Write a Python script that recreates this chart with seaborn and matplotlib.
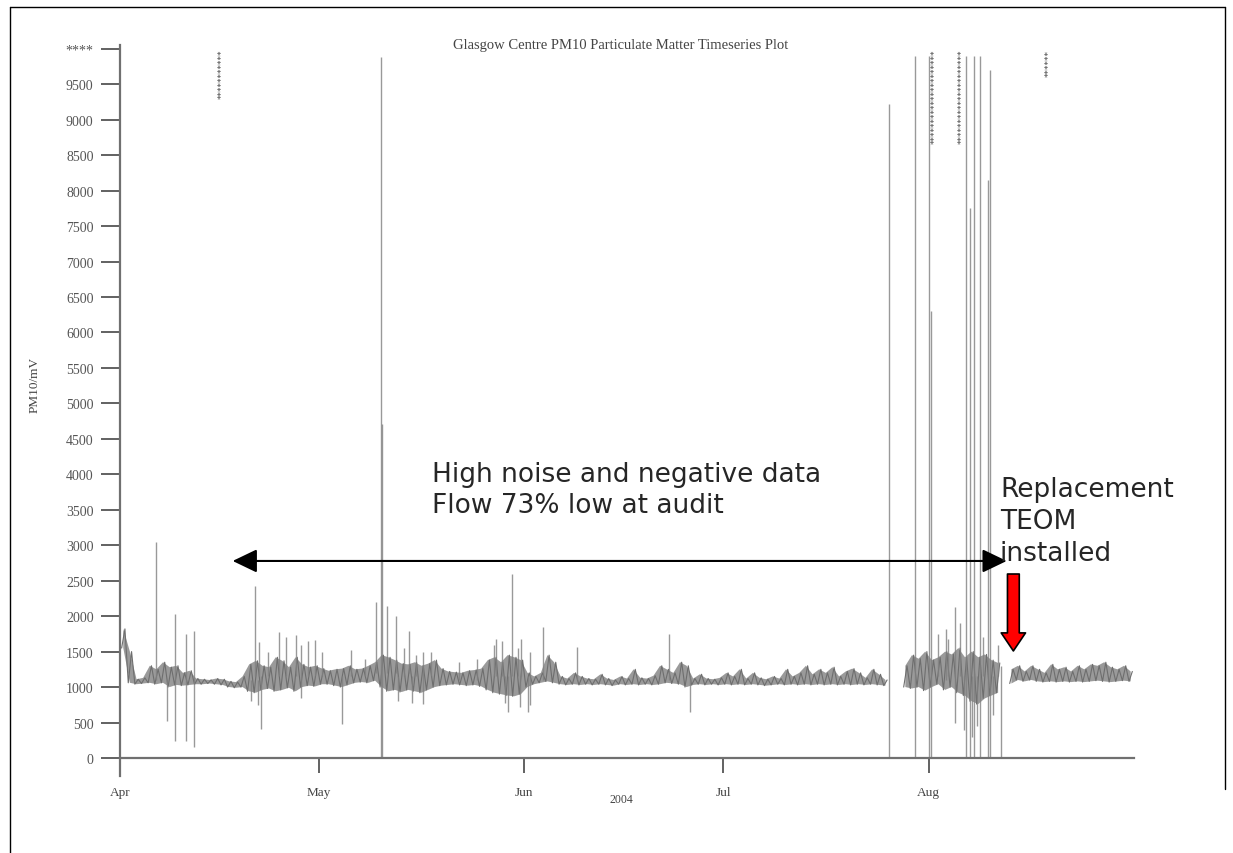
import numpy as np
import pandas as pd
import matplotlib
matplotlib.use("Agg")
import matplotlib.pyplot as plt
from matplotlib.lines import Line2D
import seaborn as sns

nan = np.nan
start = pd.Timestamp("2004-04-01")
end = pd.Timestamp("2004-09-01")

# daily low / high of the PM10 trace (mV)
apr_low = [1550, 1060, 1040, 1050, 1060, 1040, 1060, 1000, 1030, 1020,
           1030, 1040, 1040, 1050, 1040, 1030, 1000, 990, 1000, 940,
           920, 960, 980, 940, 960, 990, 940, 1000, 1020, 1010]
apr_high = [1820, 1500, 1110, 1130, 1300, 1250, 1350, 1280, 1300, 1200,
            1230, 1120, 1110, 1100, 1120, 1110, 1080, 1070, 1150, 1320,
            1370, 1300, 1280, 1420, 1370, 1280, 1420, 1320, 1280, 1300]
may_low = [1040, 1040, 1020, 1000, 1030, 1060, 1070, 1060, 1090, 1000,
           940, 960, 930, 960, 940, 920, 960, 1000, 1020, 1030,
           1040, 1030, 1020, 1030, 1010, 960, 920, 900, 880, 870, 900]
may_high = [1260, 1230, 1250, 1260, 1300, 1250, 1260, 1300, 1350, 1450,
            1420, 1380, 1330, 1320, 1350, 1300, 1330, 1380, 1260, 1220,
            1210, 1200, 1230, 1240, 1260, 1380, 1420, 1350, 1450, 1420, 1380]
jun_low = [1000, 1040, 1060, 1080, 1060, 1040, 1030, 1040, 1030, 1040,
           1030, 1040, 1030, 1020, 1040, 1030, 1040, 1030, 1040, 1030,
           1040, 1060, 1050, 1040, 1000, 1030, 1040, 1030, 1040, 1030]
jun_high = [1200, 1150, 1200, 1450, 1350, 1150, 1120, 1200, 1150, 1120,
            1110, 1180, 1120, 1100, 1150, 1120, 1250, 1130, 1120, 1160,
            1300, 1250, 1200, 1350, 1300, 1120, 1180, 1120, 1110, 1130]
jul_low = [1040, 1030, 1040, 1030, 1040, 1030, 1020, 1030, 1040, 1030,
           1040, 1030, 1040, 1030, 1040, 1030, 1040, 1030, 1040, 1030,
           1040, 1030, 1040, 1030, 1020, nan, nan, 1000, 980, 1000, 950]
jul_high = [1200, 1150, 1250, 1120, 1200, 1130, 1110, 1150, 1120, 1250,
            1150, 1200, 1300, 1180, 1250, 1200, 1280, 1150, 1220, 1260,
            1200, 1130, 1250, 1180, 1100, nan, nan, 1300, 1450, 1400, 1500]
aug_low = [1000, 1040, 960, 1000, 920, 880, 800, 760, 840, 880, 920, nan,
           1050, 1100, 1080, 1100, 1080, 1070, 1080, 1070, 1080, 1070,
           1080, 1070, 1080, 1090, 1080, 1070, 1080, 1090, 1080]
aug_high = [1380, 1420, 1500, 1460, 1550, 1420, 1500, 1420, 1460, 1380, 1340, nan,
            1250, 1300, 1220, 1300, 1250, 1200, 1320, 1250, 1280, 1220,
            1300, 1250, 1320, 1300, 1350, 1280, 1250, 1300, 1220]

# isolated spikes and hairs: day after 1 Apr, bottom and top of the line
spike_day = [5.4, 7.1, 8.3, 10.0, 11.2, 20.3, 21.3, 24.0, 26.5, 29.4,
             33.5, 38.6, 39.4, 39.6, 40.3, 41.6, 43.6, 56.8, 58.6, 59.2,
             60.5, 61.6, 63.8, 68.9, 82.8, 86.0, 116.1, 120.0, 122.0, 122.4,
             124.6, 126.0, 127.7, 128.2, 128.9, 129.7, 130.9, 131.3, 133.0,
             19.7, 20.8, 21.0, 22.4, 25.1, 27.3, 28.4, 30.5, 34.8, 37.0,
             41.9, 42.9, 44.0, 44.6, 45.7, 47.0, 51.1, 53.8, 56.5, 57.6,
             58.1, 60.0, 60.3, 61.9, 123.5, 125.0, 126.8, 127.4, 128.6, 129.3,
             130.2, 131.8, 132.5]
spike_low = [1100, 526, 244, 244, 155, 1150, 410, 1150, 1150, 1150,
             480, 1200, 0, 0, 1200, 1200, 1200, 1150, 650, 1150,
             1150, 650, 1100, 1100, 1100, 650, 0, 0, 0, 0,
             1100, 500, 0, 0, 0, 0, 0, 0, 0,
             800, 750, 1150, 1150, 1150, 850, 1150, 1150, 1150, 1150,
             800, 1150, 780, 1150, 760, 1150, 1100, 1100, 1150, 1150,
             780, 1150, 720, 750, 1150, 1150, 1150, 400, 300, 450,
             1150, 600, 1150]
spike_high = [3045, 1100, 2030, 1750, 1790, 2430, 1150, 1775, 1730, 1660,
              1150, 2200, 9880, 4710, 2140, 2000, 1790, 1680, 1150, 2600,
              1680, 1150, 1850, 1560, 1750, 1150, 9220, 9900, 9900, 6300,
              1820, 2130, 9900, 7750, 9900, 9900, 8150, 9700, 1300,
              1100, 1100, 1640, 1500, 1700, 1600, 1650, 1500, 1520, 1400,
              1150, 1550, 1150, 1450, 1500, 1500, 1350, 1400, 1600, 1650,
              1150, 1550, 1150, 1500, 1750, 1680, 1900, 1150, 1150, 1150,
              1700, 1150, 1600]

# flag marks printed along the top
flag_day = [15.5, 123.0, 127.1, 140.2]
flag_text = ["***********", "*********************", "*********************", "******"]

y_ticks = list(range(0, 10001, 500))
y_labels = [str(v) for v in y_ticks[:-1]] + ["****"]
month_ticks = ["2004-04-01", "2004-05-01", "2004-06-01", "2004-07-01", "2004-08-01"]
month_labels = ["Apr", "May", "Jun", "Jul", "Aug"]

low = apr_low + may_low + jun_low + jul_low + aug_low
high = apr_high + may_high + jun_high + jul_high + aug_high

rows = []
seg = 0
for d, (lo, hi) in enumerate(zip(low, high)):
    if np.isnan(lo):
        seg += 1
        continue
    rows.append((start + pd.Timedelta(days=d + 0.25), lo, seg))
    rows.append((start + pd.Timedelta(days=d + 0.75), hi, seg))
df = pd.DataFrame(rows, columns=["time", "pm10", "segment"])
band = pd.DataFrame({"time": [start + pd.Timedelta(days=d + 0.5) for d in range(len(low))],
                     "low": low, "high": high})

sns.set_style("ticks")
plt.rcParams["font.family"] = ["Liberation Serif", "DejaVu Serif"]

fig = plt.figure(figsize=(12.33, 8.54), dpi=100)
ax = fig.add_axes([0.0973, 0.0905, 0.8224, 0.8554])

ax.fill_between(band["time"], band["low"], band["high"], color="#9a9a9a", lw=0)
sns.lineplot(data=df, x="time", y="pm10", units="segment", estimator=None,
             color="#6e6e6e", linewidth=0.8, ax=ax, legend=False)
spike_t = [start + pd.Timedelta(days=d) for d in spike_day]
ax.vlines(spike_t, spike_low, spike_high, color="#808080", linewidth=1.0, alpha=0.8)

ax.set_xlim(start, end)
ax.set_ylim(-250, 10050)
ax.set_yticks(y_ticks)
ax.set_yticklabels(y_labels)
ax.set_xticks(pd.to_datetime(month_ticks))
ax.set_xticklabels(month_labels)
ax.set_xlabel("")
ax.set_ylabel("")

for s in ["top", "right"]:
    ax.spines[s].set_visible(False)
ax.spines["bottom"].set_position(("data", 0))
for s in ["left", "bottom"]:
    ax.spines[s].set_color("#707070")
    ax.spines[s].set_linewidth(1.6)
ax.tick_params(axis="y", length=14, width=1.3, color="#555555", pad=5,
               labelsize=10, labelcolor="#555555")
ax.tick_params(axis="x", length=11, width=1.3, color="#555555", pad=9,
               labelsize=9.5, labelcolor="#444444")

for d, t in zip(flag_day, flag_text):
    ax.text(start + pd.Timedelta(days=d), 10000, t, rotation=90, ha="center",
            va="top", fontsize=6.5, color="#444444", family="DejaVu Sans")

fig.text(621 / 1233, 1 - 45 / 854, "Glasgow Centre PM10 Particulate Matter Timeseries Plot",
         ha="center", va="center", fontsize=10.5, color="#444444")
fig.text(35 / 1233, 1 - 385 / 854, "PM10/mV", rotation=90, ha="center",
         va="center", fontsize=9.5, color="#444444")
fig.text(621 / 1233, 1 - 800 / 854, "2004", ha="center", va="center",
         fontsize=8.5, color="#444444")

# annotations
fig.text(432 / 1233, 1 - 490.5 / 854, "High noise and negative data\nFlow 73% low at audit",
         ha="left", va="center", fontsize=19, linespacing=1.25, family="DejaVu Sans")
fig.text(1000 / 1233, 1 - 522.5 / 854, "Replacement\nTEOM\ninstalled",
         ha="left", va="center", fontsize=19, linespacing=1.3, family="DejaVu Sans")
ax.annotate("", xy=(start + pd.Timedelta(days=133.8), 2778),
            xytext=(start + pd.Timedelta(days=17.0), 2778),
            arrowprops=dict(arrowstyle="<|-|>,head_length=0.75,head_width=0.36",
                            mutation_scale=20, color="black", lw=1.5,
                            shrinkA=0, shrinkB=0))
ax.annotate("", xy=(start + pd.Timedelta(days=134.8), 1509),
            xytext=(start + pd.Timedelta(days=134.8), 2594),
            arrowprops=dict(arrowstyle="simple,head_length=1.3,head_width=1.75,tail_width=0.85",
                            mutation_scale=10, fc="#ff0000", ec="black", lw=1.2,
                            shrinkA=0, shrinkB=0))

# slide frame
for xs, ys in [([10, 1225], [8, 8]), ([10, 10], [8, 854]), ([1225, 1225], [8, 790])]:
    fig.add_artist(Line2D([x / 1233 for x in xs], [1 - y / 854 for y in ys],
                          color="black", linewidth=1.0))

fig.savefig("out.png", dpi=100)
